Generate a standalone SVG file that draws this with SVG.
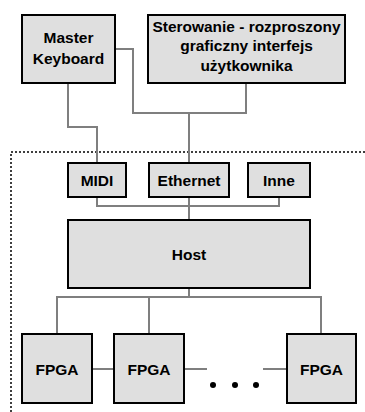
<svg xmlns="http://www.w3.org/2000/svg" width="365" height="412" viewBox="0 0 365 412">
  <style>
    .box { fill: #dfdfdf; stroke: #000; stroke-width: 2; }
    .lbl { font-family: "Liberation Sans", Arial, sans-serif; font-weight: bold; font-size: 15.5px; fill: #000; text-anchor: middle; }
    .wire { fill: none; stroke: #7f7f7f; stroke-width: 2; }
    .frame { fill: none; stroke: #000; stroke-width: 1.5; stroke-dasharray: 2 2; }
  </style>
  <rect width="365" height="412" fill="#fff"/>

  <!-- system boundary (dotted, open to the right and bottom) -->
  <path class="frame" d="M11 412 V152 H365"/>

  <g id="connectors">
    <!-- keyboard to MIDI -->
    <path class="wire" d="M68 83 V127 H97 V163"/>
    <!-- keyboard and GUI to Ethernet -->
    <path class="wire" d="M115 49 H133 V113 H246 V83"/>
    <path class="wire" d="M189 113 V163"/>
    <!-- interfaces to host -->
    <path class="wire" d="M97 197 V206 H279 V197"/>
    <path class="wire" d="M189 197 V220"/>
    <!-- host to FPGA bus -->
    <path class="wire" d="M189 288 V297"/>
    <path class="wire" d="M57 334 V297 H321 V334"/>
    <path class="wire" d="M149 297 V334"/>
    <!-- FPGA chain -->
    <path class="wire" d="M92 369 H114"/>
    <path class="wire" d="M184 369 H207"/>
    <path class="wire" d="M263 369 H287"/>
  </g>

  <g id="master-keyboard">
    <rect class="box" x="22" y="15" width="93" height="68"/>
    <text class="lbl" x="68.5" y="43">Master</text>
    <text class="lbl" x="68.5" y="64">Keyboard</text>
  </g>

  <g id="sterowanie">
    <rect class="box" x="148" y="15" width="197" height="68"/>
    <text class="lbl" x="246.5" y="32" textLength="188" lengthAdjust="spacingAndGlyphs">Sterowanie - rozproszony</text>
    <text class="lbl" x="246.5" y="51">graficzny interfejs</text>
    <text class="lbl" x="246.5" y="71">użytkownika</text>
  </g>

  <g id="midi">
    <rect class="box" x="68" y="163" width="58" height="34"/>
    <text class="lbl" x="97" y="185.5">MIDI</text>
  </g>

  <g id="ethernet">
    <rect class="box" x="149" y="163" width="80" height="34"/>
    <text class="lbl" x="189" y="185.5">Ethernet</text>
  </g>

  <g id="inne">
    <rect class="box" x="248" y="163" width="62" height="34"/>
    <text class="lbl" x="279" y="185.5">Inne</text>
  </g>

  <g id="host">
    <rect class="box" x="68" y="220" width="242" height="68"/>
    <text class="lbl" x="189" y="259.5">Host</text>
  </g>

  <g id="fpga-1">
    <rect class="box" x="22" y="334" width="70" height="69"/>
    <text class="lbl" x="57" y="374.5">FPGA</text>
  </g>

  <g id="fpga-2">
    <rect class="box" x="114" y="334" width="70" height="69"/>
    <text class="lbl" x="149" y="374.5">FPGA</text>
  </g>

  <g id="fpga-n">
    <rect class="box" x="287" y="334" width="69" height="69"/>
    <text class="lbl" x="321.5" y="374.5">FPGA</text>
  </g>

  <g id="ellipsis" fill="#000">
    <circle cx="213" cy="385" r="3"/>
    <circle cx="235" cy="385" r="3"/>
    <circle cx="256" cy="385" r="3"/>
  </g>
</svg>
